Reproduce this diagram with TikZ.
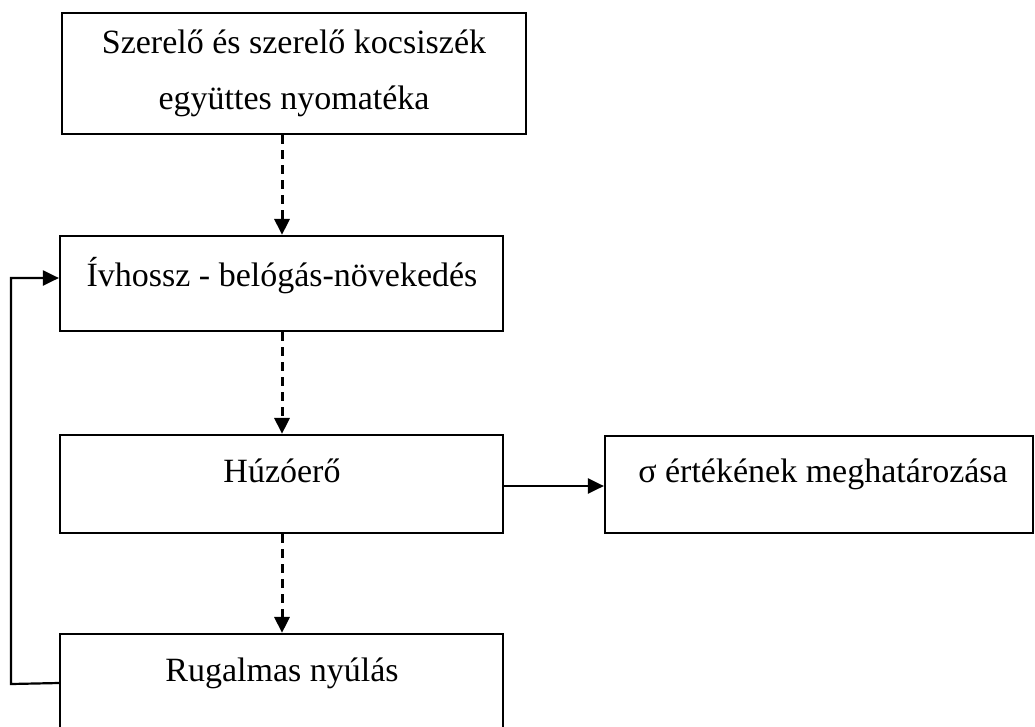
\documentclass[tikz,border=0pt]{standalone}
\usepackage{fontspec}
\setmainfont{Liberation Serif}
\usetikzlibrary{arrows.meta}
\begin{document}
\begin{tikzpicture}[x=1pt,y=-1pt,
  box/.style={draw=black,line width=2.2pt,rectangle,inner sep=0pt},
  txt/.style={anchor=base,inner sep=0pt,font=\fontsize{34}{40}\selectfont},
  dashedarrow/.style={line width=3pt,dash pattern=on 9pt off 6pt,-{Triangle[length=16pt,width=15pt]}},
  solidarrow/.style={line width=2.2pt,-{Triangle[length=16pt,width=15pt]}}]
\useasboundingbox (0,0) rectangle (1035,726);
\clip (0,0) rectangle (1035,726);
% boxes
\node[box,minimum width=464pt,minimum height=121pt] (b1) at (294,73.5) {};
\node[box,minimum width=443pt,minimum height=95pt] (b2) at (281.5,283.5) {};
\node[box,minimum width=443pt,minimum height=98pt] (b3) at (281.5,484) {};
\node[box,minimum width=428pt,minimum height=97pt] (b4) at (819,484.5) {};
\node[box,minimum width=443pt,minimum height=98pt] (b5) at (281.5,683) {};
% texts
\node[txt] (t1a) at (294,53) {Szerelő és szerelő kocsiszék};
\node[txt] (t1b) at (294,109) {együttes nyomatéka};
\node[txt] (t2) at (282,286) {Ívhossz - belógás-növekedés};
\node[txt] (t3) at (282,482) {Húzóerő};
\node[txt] (t4) at (823,482) {σ értékének meghatározása};
\node[txt] (t5) at (282,681) {Rugalmas nyúlás};
% dashed arrows
\draw[dashedarrow] (b1.south -| 282,0) -- (b2.north -| 282,0);
\draw[dashedarrow] (b2.south -| 282,0) -- (b3.north -| 282,0);
\draw[dashedarrow] (b3.south -| 282,0) -- (b5.north -| 282,0);
% horizontal arrow
\coordinate (h) at (0,486);
\draw[solidarrow] (b3.east |- h) -- (b4.west |- h);
% feedback
\coordinate (fb) at (11,684);
\draw[solidarrow] (b5.west) -- (fb) |- ([yshift=5.5pt]b2.west);
\end{tikzpicture}
\end{document}
